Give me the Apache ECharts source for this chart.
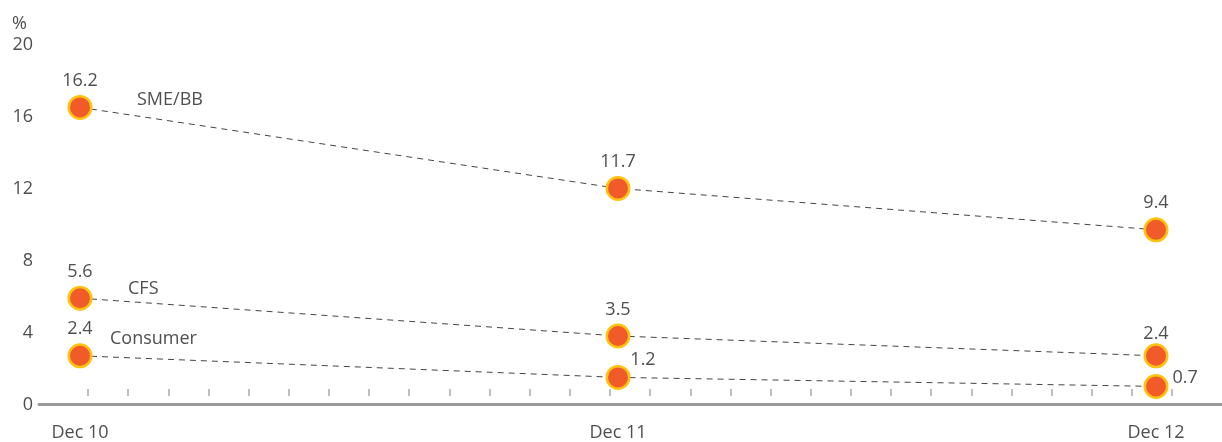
<!DOCTYPE html>
<html>
<head>
<meta charset="utf-8">
<script src="https://cdn.jsdelivr.net/npm/echarts@6/dist/echarts.min.js"></script>
<style>html,body{margin:0;padding:0;background:#fff}#c{width:1222px;height:442px}</style>
</head>
<body>
<div id="c"></div>
<script>
const categories = ['Dec 10', 'Dec 11', 'Dec 12'];
const smeBB = [16.2, 11.7, 9.4];
const cfs = [5.6, 3.5, 2.4];
const consumer = [2.4, 1.2, 0.7];
const seriesNames = ['SME/BB', 'CFS', 'Consumer'];
const yTicks = [0, 4, 8, 12, 16, 20];
const tickCount = 27;

const FONT = 'Open Sans';
const TXT = '#4f4f4f';
const chart = echarts.init(document.getElementById('c'), null, {renderer: 'canvas'});

// per-point label placement tweaks (styling only)
const labelTweaks = {
  'CFS-2': {offset: [0, 5]},
  'Consumer-1': {offset: [25, 9]},
  'Consumer-2': {position: 'right', distance: 4, offset: [0, -9]}
};

function lineSeries(name, data, nameOffset) {
  return {
    type: 'line', name: name, xAxisIndex: 0, yAxisIndex: 0,
    data: data.map((v, i) => {
      const item = {value: v};
      const t = labelTweaks[name + '-' + i];
      if (t) item.label = t;
      return item;
    }),
    symbol: 'circle', symbolSize: 22.5,
    itemStyle: {color: '#F15A29', borderColor: '#FFC20E', borderWidth: 2.5},
    lineStyle: {color: '#444', width: 1, type: [6, 5]},
    label: {show: true, position: 'top', distance: 5, fontFamily: FONT, fontSize: 18, color: TXT},
    emphasis: {disabled: true},
    z: 3,
    markPoint: {
      symbol: 'circle', symbolSize: 0, silent: true,
      data: [{coord: [0, data[0]], value: name}],
      label: {show: true, formatter: name, position: nameOffset, align: 'left', verticalAlign: 'middle',
              fontFamily: FONT, fontSize: 18, color: TXT}
    }
  };
}

const option = {
  animation: false,
  graphic: [{type: 'text', left: 12, top: 15,
             style: {text: '%', font: '18px "Open Sans"', fill: TXT}}],
  grid: [
    {left: 80, right: 66, top: 39, bottom: 41},
    {left: 39, right: 0, top: 39, bottom: 38},
    {left: 88, width: tickCount * 40.15, top: 39, bottom: 46}
  ],
  xAxis: [
    {type: 'category', gridIndex: 0, data: categories, boundaryGap: false,
     axisLine: {show: false}, axisTick: {show: false}, splitLine: {show: false},
     axisLabel: {margin: 25, fontFamily: FONT, fontSize: 18, color: TXT}},
    {type: 'value', gridIndex: 1, min: 0, max: 1,
     axisLine: {show: true, onZero: false, lineStyle: {color: '#9a9a9a', width: 3}},
     axisTick: {show: false}, axisLabel: {show: false}, splitLine: {show: false}},
    {type: 'value', gridIndex: 2, min: 0, max: tickCount, interval: 1,
     axisLine: {show: false, onZero: false},
     axisTick: {show: true, inside: true, length: 7, lineStyle: {color: '#aaa', width: 1.5}},
     axisLabel: {show: false}, splitLine: {show: false}}
  ],
  yAxis: [
    {type: 'value', gridIndex: 0, min: yTicks[0], max: yTicks[yTicks.length - 1], interval: 4,
     axisLine: {show: false}, axisTick: {show: false}, splitLine: {show: false},
     axisLabel: {margin: 47, align: 'right', verticalAlign: 'top', lineHeight: 12,
                 fontFamily: FONT, fontSize: 18, color: TXT}},
    {type: 'value', gridIndex: 1, show: false},
    {type: 'value', gridIndex: 2, show: false}
  ],
  series: [
    lineSeries(seriesNames[0], smeBB, [57, -8]),
    lineSeries(seriesNames[1], cfs, [48, -9]),
    lineSeries(seriesNames[2], consumer, [30, -17])
  ]
};
chart.setOption(option);
</script>
</body>
</html>
